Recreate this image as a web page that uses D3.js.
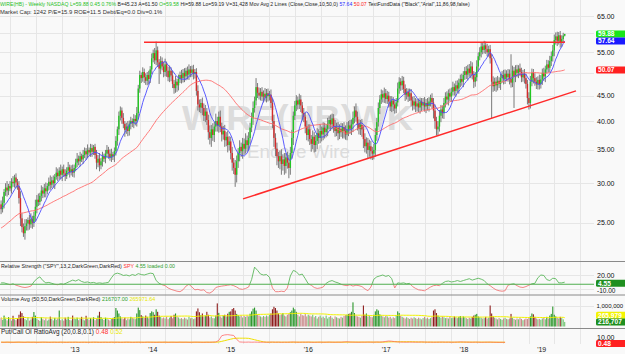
<!DOCTYPE html>
<html>
<head>
<meta charset="utf-8">
<script src="https://cdn.jsdelivr.net/npm/d3@7"></script>
<style>
body { margin: 0; background: #fff; }
svg { display: block; font-family: "Liberation Sans", Arial, sans-serif; }
</style>
</head>
<body>
<svg id="chart" width="625" height="354"></svg>
<script>
// weekly closes, first week ending 2012-01-20
var startDate = new Date(Date.UTC(2012, 0, 20));
var closes = [
  26.6,27.4,28.8,29.4,29.0,29.6,29.3,30.2,30.0,30.8, 30.1,29.6,28.0,25.5,24.5,23.8,24.6,24.9,25.3,24.8,
  25.4,25.0,25.8,26.9,27.8,27.5,28.3,29.0,28.6,29.3, 28.9,29.6,30.2,29.8,30.4,30.0,30.9,31.5,31.0,31.8,
  31.2,32.0,31.4,31.0,31.8,32.3,31.6,32.0,31.5,32.2,
  33.0,33.6,33.2,34.0,33.5,34.2,34.8,34.3,35.0,34.6, 35.3,34.7,35.5,34.2,33.0,33.6,32.6,33.2,34.0,33.6,
  34.4,35.0,34.4,33.8,34.3,34.0,34.8,36.5,38.5,41.0, 42.0,40.6,39.5,38.4,39.0,38.2,39.5,40.0,39.6,40.4,
  40.0,41.5,46.5,49.5,48.8,50.2,49.0,48.2,49.5,48.6, 50.8,53.5,
  54.8,53.0,55.5,52.5,51.0,52.8,51.5,50.2,52.0,50.5, 49.0,50.5,49.4,47.5,46.6,48.0,47.2,48.6,49.5,48.8,
  50.0,49.2,50.5,49.6,50.8,50.0,50.8,49.8,50.2,46.0, 43.2,42.6,43.5,42.5,41.0,41.8,40.2,38.0,37.0,38.5,
  37.5,39.0,40.0,39.2,40.8,39.0,37.6,38.2,36.6,37.2, 35.8,36.4,
  34.5,33.0,32.2,31.2,33.2,34.5,35.5,34.8,36.0,35.2, 36.6,35.8,37.0,38.8,40.5,42.5,44.0,46.8,45.6,45.0,
  45.8,44.8,45.4,44.6,45.5,44.9,45.2,43.5,40.0,37.0, 35.2,34.0,33.2,34.0,32.8,33.5,32.5,33.8,33.0,32.2,
  34.5,37.0,41.0,43.0,44.0,43.2,44.2,43.0,41.5,40.8, 39.0,37.5,38.5,
  36.8,36.0,37.2,35.8,36.5,37.8,37.0,38.2,37.6,38.8, 38.0,38.6,39.5,40.2,39.4,40.5,39.0,38.2,38.8,37.8,
  38.6,38.0,38.9,38.2,37.6,38.5,39.2,38.6,39.4,40.6, 42.0,40.8,39.5,38.6,39.3,38.5,36.8,35.6,36.2,35.0,
  35.6,34.8,34.4,35.0,37.5,39.8,42.5,44.2,45.3,44.6, 45.5,44.3,
  45.0,43.8,42.8,44.0,43.2,42.4,43.6,46.5,48.0,47.2, 48.2,46.4,45.2,45.8,44.8,45.5,44.0,43.0,43.8,42.8,
  43.4,42.6,43.8,43.0,43.6,42.8,43.5,42.9,43.8,44.5, 43.6,42.0,40.0,38.5,39.0,41.0,42.2,41.5,43.5,44.8,
  44.2,45.5,44.8,45.8,46.8,46.0,47.2,46.5,47.8,48.6, 48.0,49.5,
  50.4,49.6,51.0,50.0,51.5,49.5,48.0,49.0,51.5,54.0, 55.0,56.5,55.6,56.8,55.8,55.0,55.8,53.5,48.0,47.0,
  48.0,47.2,48.2,47.5,48.8,49.5,48.6,49.8,49.0,49.8, 48.6,47.8,50.5,49.2,50.8,50.0,51.0,50.2,49.0,49.8,
  48.8,47.5,44.5,43.5,48.0,50.0,48.8,48.0,47.4,48.4, 47.5,48.5,
  50.0,49.2,50.8,52.0,51.2,52.8,54.0,55.5,58.2,59.2, 58.0,59.5,57.5,58.5,59.4,59.88
];
// 2011 closes, only used to start the moving averages
var closes2011 = [
  22.0,22.8,22.4,21.6,22.2,23.0,22.6,21.8,22.4,23.2, 22.8,22.0,22.6,23.4,22.8,22.2,23.0,22.6,23.2,22.4,
  24.0,24.6,24.2,25.0,24.4,23.8,24.6,25.2,24.8,24.2, 25.0,24.4,24.8,25.4,24.6,
  26.0,26.8,26.2,27.0,26.4,25.8,26.6,27.2,26.8,26.2,27.0,26.4,26.8,27.2
];
var wickUp = [
  0.5,0.8,0.4,0.6,0.9,0.3,0.7,0.5,0.8,0.4, 0.6,0.5,0.7,0.9,0.6,0.4,0.8,0.5,0.3,0.6, 0.7,0.4,0.5,0.9,0.6,0.8,0.4,0.7,0.5,0.6,
  0.8,0.4,0.6,0.9,0.5,0.7,0.4,0.8,0.6,0.5, 0.9,0.4,0.7,0.6,0.5,0.8,0.4,0.6,0.7,0.5,
  0.6,0.9,0.5,0.7,0.4,0.8,0.6,0.5,0.9,0.4, 0.7,0.6,0.3,0.5,0.8,0.6,0.9,0.5,0.7,0.4, 0.6,0.8,0.5,0.7,0.9,0.4,0.6,0.8,0.5,0.8,
  0.8,0.6,0.9,0.5,0.7,1.0,0.6,0.8,0.5,0.9, 0.7,1.2,0.8,1.0,0.6,1.1,0.8,0.9,0.7,1.0, 0.8,1.2,
  0.9,1.3,2.3,1.0,0.8,1.2,0.9,1.1,1.4,0.7, 1.0,1.2,0.8,1.1,0.9,1.3,0.7,1.0,0.8,1.2, 0.9,1.1,0.7,1.0,1.2,0.8,0.9,1.1,0.7,0.9,
  1.2,1.0,0.8,1.1,0.9,1.3,0.7,1.0,1.2,0.8, 1.1,0.9,1.4,0.8,1.0,1.2,0.7,0.9,1.1,0.8, 1.0,0.9,
  0.8,1.0,0.7,1.2,0.9,0.8,1.1,0.7,1.0,0.9, 1.2,0.8,1.0,0.9,1.1,1.3,0.8,2.0,0.9,1.1, 0.8,1.0,0.7,1.2,0.9,1.0,0.8,1.1,0.9,1.2,
  0.8,1.0,0.7,0.9,1.1,0.8,1.0,0.7,0.9,1.2, 1.0,1.4,0.8,0.9,1.1,0.8,1.2,0.9,0.7,1.0, 0.8,1.1,0.9,
  0.9,0.7,1.1,0.8,1.0,0.9,0.7,1.2,0.8,1.0, 0.9,0.8,1.1,0.7,1.0,0.9,0.8,1.2,0.9,1.0, 0.8,1.1,0.7,0.9,1.0,1.3,0.8,1.0,0.9,1.2,
  0.8,1.4,1.0,0.8,0.9,1.1,0.7,1.0,0.9,0.8, 1.1,0.9,0.7,1.0,1.2,0.8,1.1,0.9,1.0,0.8, 1.2,0.9,
  1.0,0.8,1.1,0.9,0.7,1.0,0.9,1.3,1.0,0.8, 1.1,0.9,1.0,0.8,0.7,1.0,0.9,0.8,1.1,0.7, 0.9,1.0,0.8,0.7,0.9,1.1,0.8,1.0,0.9,0.7,
  1.0,0.9,1.2,0.8,1.0,1.1,0.9,0.8,1.0,0.9, 1.1,0.8,1.0,0.9,1.2,0.8,1.0,1.1,0.9,1.0, 1.2,0.9,
  1.0,1.2,0.9,1.1,1.3,1.0,0.9,1.2,1.5,1.0, 1.3,1.1,0.9,1.2,1.0,1.4,0.9,1.1,1.0,1.2, 0.9,1.0,1.1,0.8,1.0,0.9,1.2,1.0,0.8,1.1,
  1.0,5.9,1.2,0.9,1.0,1.1,0.8,1.2,1.0,0.9, 1.1,1.0,0.9,1.2,1.3,1.0,0.9,1.1,1.0,0.8, 1.2,1.0,
  1.0,1.2,0.9,1.1,1.0,1.3,1.2,1.4,1.5,1.1, 1.3,0.9,1.2,1.0,0.8,0.0
];
var wickDn = [
  0.6,0.4,0.7,0.5,0.8,0.6,0.4,0.7,0.5,0.6, 0.8,0.5,0.7,0.9,0.6,0.4,0.7,0.5,0.8,0.6, 0.4,0.7,0.5,0.6,0.8,0.5,0.4,0.7,0.6,0.5,
  0.8,0.4,0.6,0.7,0.5,0.6,0.8,0.4,0.7,0.5, 0.6,0.9,0.5,0.7,0.4,0.6,0.8,0.5,0.6,0.7,
  0.5,0.7,0.6,0.8,0.4,0.7,0.5,0.9,0.6,0.5, 0.7,0.8,0.5,0.6,1.0,0.7,0.9,0.6,0.8,0.5, 0.7,0.6,0.8,0.5,0.7,0.6,0.9,0.7,0.8,1.0,
  0.9,1.1,0.8,1.2,0.7,0.9,0.8,1.0,0.7,0.9, 0.8,1.0,1.2,0.9,1.1,0.8,1.3,0.9,1.0,1.2, 0.9,1.1,
  1.0,0.9,1.2,1.1,3.5,1.3,0.9,1.2,1.0,1.4, 0.9,1.1,1.3,0.9,1.2,1.0,1.4,1.1,0.9,1.2, 1.0,1.3,0.9,1.1,1.2,1.0,0.9,1.3,1.1,1.0,
  1.2,0.9,1.1,1.4,1.0,1.2,0.9,1.3,1.1,1.5, 1.0,1.2,0.9,1.1,1.3,1.0,1.2,0.9,1.1,1.0, 1.2,0.9,
  1.0,1.2,0.9,1.7,1.1,1.0,1.3,0.9,1.2,1.0, 0.8,1.1,0.9,1.0,0.8,1.2,0.9,1.0,1.1,0.8, 1.0,0.9,1.2,0.8,1.0,1.1,0.9,1.0,1.3,1.5,
  1.2,1.4,1.0,1.2,1.6,1.0,1.3,1.1,0.9,1.5, 1.0,0.9,1.2,0.8,1.1,1.0,0.9,1.3,1.4,1.0, 1.2,0.9,1.1,
  1.0,1.3,0.9,1.2,1.1,1.4,1.0,0.9,1.2,1.0, 1.1,0.9,1.3,1.0,1.2,0.8,1.1,1.0,0.9,1.2, 1.0,0.8,1.1,1.3,0.9,1.0,1.2,0.9,1.1,1.4,
  1.0,0.9,1.2,1.0,1.1,1.3,1.5,1.0,1.2,1.4, 1.1,1.3,1.0,0.9,1.1,1.0,0.8,1.2,0.9,1.0, 1.1,0.9,
  1.0,1.2,0.9,1.1,1.3,1.0,0.9,0.8,1.1,1.2, 1.0,0.9,1.3,1.0,1.1,0.9,1.2,1.0,0.8,1.1, 1.0,0.9,1.2,1.1,0.9,1.0,1.3,0.9,1.1,1.0,
  1.2,1.5,1.4,1.1,1.0,0.9,1.2,1.0,1.1,0.9, 1.0,1.2,0.9,1.1,0.8,1.0,1.2,0.9,1.1,1.0, 0.9,1.2,
  1.1,1.0,1.3,0.9,1.2,1.0,1.4,1.1,0.9,1.2, 1.0,1.3,1.1,0.9,1.2,1.0,1.1,1.3,7.5,1.2, 1.0,1.4,1.1,0.9,1.3,1.0,1.2,1.1,0.9,1.0,
  1.2,1.1,1.0,6.7,1.3,1.0,1.2,0.9,1.1,1.0, 1.2,1.0,1.3,1.3,1.1,1.0,1.2,0.9,1.0,1.1, 1.2,1.0,
  1.2,1.0,1.3,0.9,1.1,1.0,1.2,1.3,1.5,1.2, 1.4,1.0,1.3,1.1,0.9,0.2
];
// weekly volume, thousands of shares
var volumes = [
  420,310,520,380,290,450,360,280,510,340, 300,390,560,720,640,480,350,300,420,280, 330,460,690,520,380,310,270,440,350,300,
  390,280,330,470,360,290,410,320,380,760, 300,350,280,420,330,460,310,290,520,380,
  350,420,300,380,460,330,290,510,370,320, 400,350,440,300,380,520,700,450,360,310, 420,380,330,290,360,410,450,880,760,620,
  480,390,350,420,300,380,340,460,410,380, 350,620,900,780,540,480,410,520,460,390, 640,720,
  680,560,820,700,520,450,390,430,380,470, 350,420,500,390,560,620,480,430,370,400, 350,420,380,330,460,390,410,350,380,720,
  860,680,540,620,480,520,700,560,430,480, 400,390,520,1100,650,480,420,520,560,480, 610,700,
  720,830,880,760,600,540,480,520,430,500, 460,520,480,610,720,850,900,760,560,520, 480,440,500,460,520,480,560,620,820,940,
  880,760,620,540,580,640,520,480,560,600, 680,760,900,820,700,560,480,600,540,520, 600,480,560,
  520,480,560,440,500,380,460,520,420,470, 400,520,380,450,500,420,360,480,440,400, 380,460,420,500,540,560,600,620,700,1150,
  640,520,480,460,420,500,1000,560,620,480, 520,460,440,560,720,820,760,580,520,480, 440,500,
  480,420,460,380,440,400,520,720,640,500, 460,420,380,440,400,360,420,380,440,400, 360,420,380,340,400,460,380,420,360,400,
  440,760,820,640,520,460,420,480,440,400, 420,380,460,400,420,480,440,400,460,500, 420,480,
  440,400,360,420,380,460,520,560,600,480, 440,420,380,400,460,380,420,1000,620,480, 420,380,340,400,360,320,380,420,360,340,
  380,600,420,360,320,380,340,400,360,300, 340,380,360,420,480,620,580,460,380,340, 360,320,
  380,420,340,460,380,520,600,950,560,480, 420,380,460,400,340,217
];
// relative strength vs SPY and put/call ratio, every second week
var relStrength = [
  3,3,1,-1,1,-2,-4,-6,-7,-6, -4,5,12,16,8,3,4,2,0,-1, 1,0,3,6,9,7,10,6,4,5,
  3,4,2,3,2,3,4,14,22,24, 22,19,20,18,21,19,23,21,20,22, 24,23,8,2,-1,-3,-8,-11,-13,-15,
  -16,-12,-4,0,-6,-12,-11,-13,-12,-18, -19,-15,-7,-5,-4,-3,-2,-1,-3,-6, -10,-11,-9,-6,10,37,30,22,20,21,
  15,-8,-16,-16,-15,-16,-8,18,30,27, 20,22,12,1,-2,-7,-9,-8,-6,2, 6,8,5,3,0,-2,-3,-1,-4,-2,
  -3,-5,-10,-14,-6,11,16,18,20,17, 19,12,-8,3,2,3,1,2,-5,-9, -12,-13,-14,-10,-6,-3,-2,-3,2,6,
  7,5,6,8,6,8,10,12,9,11, 13,11,8,1,-3,-8,-12,-14,-15,-14, -2,0,1,-3,-6,-7,-5,-2,1,2,
  14,20,19,10,8,13,12,3,3,4.55
];
var putCall = [
  0.8,0.6,0.9,0.7,0.6,0.8,1.0,0.7,0.6,0.9, 0.7,0.8,0.6,0.7,0.9,0.8,0.6,0.7,0.8,0.6, 0.9,0.7,0.6,0.8,0.7,0.9,0.6,0.7,0.8,0.6,
  0.7,0.9,0.8,0.6,0.7,0.8,0.6,0.9,0.7,0.8, 0.6,0.7,0.9,0.8,0.6,0.7,0.8,0.7,0.6,0.9, 0.8,0.7,0.6,0.8,0.7,0.9,0.6,0.8,0.7,0.6,
  0.9,0.7,0.8,0.6,0.7,0.9,0.8,0.7,0.6,0.8, 0.7,0.9,1.2,4.0,13.0,14.5,15.0,14.2,13.5,6.0, 1.2,0.9,0.8,1.0,0.7,0.9,0.8,0.6,0.9,0.7,
  0.8,1.0,0.7,0.9,0.6,0.8,0.7,0.9,1.1,0.8, 0.7,0.9,0.8,1.0,0.7,0.6,0.8,0.9,0.7,0.8, 1.0,0.8,0.7,0.9,0.8,1.2,1.5,1.1,0.9,0.8,
  0.7,0.9,0.8,1.0,0.9,0.8,1.1,0.9,1.3,2.2, 3.0,2.6,1.8,1.2,1.0,0.9,0.8,1.0,0.9,0.8, 0.9,1.2,1.0,0.8,0.9,0.7,0.8,0.9,1.0,0.8,
  0.9,0.7,0.8,1.0,1.3,1.1,0.9,0.8,0.7,0.9, 0.8,0.6,0.7,0.8,0.9,0.7,0.6,0.5,0.6,0.48
];
var priceTicks = [25, 30, 35, 40, 45, 55, 65];   // 50 and 60 sit under the value boxes
var gridPrices = [25, 30, 35, 40, 45, 50, 55, 60, 65];
var years = [2013, 2014, 2015, 2016, 2017, 2018, 2019];
// drawn trendlines: [date, price] pairs
var resistance = [[Date.UTC(2013, 10, 21), 57.6], [Date.UTC(2019, 3, 20), 57.6]];
var support = [[Date.UTC(2015, 2, 1), 27.9], [Date.UTC(2019, 5, 11), 46.0]];

var W = 625, H = 354;
var svg = d3.select("#chart");

var dates = closes.map(function(c, i) { return d3.utcDay.offset(startDate, 7 * i); });
var bars = closes.map(function(c, i) {
  var o = i > 0 ? closes[i - 1] : closes2011[closes2011.length - 1];
  return {date: dates[i], open: o, close: c,
    high: Math.max(o, c) + wickUp[i], low: Math.min(o, c) - wickDn[i], vol: volumes[i] * 1000};
});

function sma(vals, n, offset) {
  var out = [];
  for (var i = offset; i < vals.length; i++) {
    var s = 0, k = 0;
    for (var j = Math.max(0, i - n + 1); j <= i; j++) { s += vals[j]; k++; }
    out.push(s / k);
  }
  return out;
}
var allCloses = closes2011.concat(closes);
var ma10 = sma(allCloses, 10, closes2011.length);
var ma50 = sma(allCloses, 50, closes2011.length);
var volAvg = sma(volumes, 50, 0);
var pcAvg = sma(putCall, 10, 0);

var x = d3.scaleUtc().domain([Date.UTC(2013, 0, 1), Date.UTC(2019, 0, 1)]).range([75, 541.7]);
var y = d3.scaleLog().domain([25, 65]).range([222.6, 16.2]);
var yRS = d3.scaleLinear().domain([-10, 20]).range([288.9, 275]);
var yVol = d3.scaleLinear().domain([0, 1e6]).range([326.5, 305.5]);
var yPC = d3.scaleLinear().domain([0, 10]).range([342.6, 337.3]);

svg.append("rect").attr("width", W).attr("height", H).attr("fill", "#f9f9f9");

// grid
var grid = svg.append("g").attr("stroke", "#e6e6e6").attr("stroke-width", 1);
d3.utcMonth.range(new Date(Date.UTC(2011, 10, 1)), new Date(Date.UTC(2019, 10, 1)), 4).forEach(function(d) {
  var gx = Math.round(x(d)) + 0.5;
  if (gx < 594) grid.append("line").attr("x1", gx).attr("x2", gx).attr("y1", 0).attr("y2", 344);
});
gridPrices.forEach(function(p) {
  var gy = Math.round(y(p)) + 0.5;
  grid.append("line").attr("x1", 0).attr("x2", 594).attr("y1", gy).attr("y2", gy);
});
[20, -10].forEach(function(v) {
  var gy = Math.round(yRS(v)) + 0.5;
  grid.append("line").attr("x1", 0).attr("x2", 594).attr("y1", gy).attr("y2", gy);
});
grid.append("line").attr("x1", 0).attr("x2", 594).attr("y1", Math.round(yVol(1e6)) + 0.5).attr("y2", Math.round(yVol(1e6)) + 0.5);

// watermark
svg.append("text").attr("x", 182).attr("y", 130).attr("font-size", 35).attr("font-weight", "bold")
  .attr("fill", "#dcdcdc").attr("textLength", 231).attr("lengthAdjust", "spacingAndGlyphs").text("WIRE(HB)WK");
svg.append("text").attr("x", 247).attr("y", 158).attr("font-size", 18)
  .attr("fill", "#dcdcdc").attr("textLength", 103).attr("lengthAdjust", "spacingAndGlyphs").text("Encore Wire");

// main panel
var main = svg.append("g");
main.append("g").selectAll("line").data(bars).join("line")
  .attr("x1", function(d) { return x(d.date); }).attr("x2", function(d) { return x(d.date); })
  .attr("y1", function(d) { return y(d.high); }).attr("y2", function(d) { return y(d.low); })
  .attr("stroke", "#7a7a7a").attr("stroke-width", 1);
main.append("g").selectAll("rect").data(bars).join("rect")
  .attr("x", function(d) { return x(d.date) - 0.7; }).attr("width", 1.4)
  .attr("y", function(d) { return y(Math.max(d.open, d.close)); })
  .attr("height", function(d) { return Math.max(0.8, Math.abs(y(d.open) - y(d.close))); })
  .attr("fill", function(d) { return d.close >= d.open ? "#22c622" : "#d42a2a"; });

var maLine = d3.line().x(function(d, i) { return x(dates[i]); }).y(function(d) { return y(d); });
main.append("path").attr("d", maLine(ma50)).attr("fill", "none").attr("stroke", "#ff6a6a").attr("stroke-width", 0.9);
main.append("path").attr("d", maLine(ma10)).attr("fill", "none").attr("stroke", "#4a4aff").attr("stroke-width", 0.9);

var tl = d3.line().x(function(d) { return x(new Date(d[0])); }).y(function(d) { return y(d[1]); });
main.append("path").attr("d", tl(resistance)).attr("stroke", "#ff2a2a").attr("stroke-width", 1.5).attr("fill", "none");
main.append("path").attr("d", tl(support)).attr("stroke", "#ff2a2a").attr("stroke-width", 1.5).attr("fill", "none");

// relative strength panel
var rsDates = relStrength.map(function(v, j) { return dates[Math.min(2 * j, dates.length - 1)]; });
var rsLine = d3.line().x(function(d, j) { return x(rsDates[j]); }).y(function(d) { return yRS(d); });
var defs = svg.append("defs");
defs.append("clipPath").attr("id", "rsUp").append("rect").attr("x", 0).attr("y", 262).attr("width", 594).attr("height", yRS(0) - 262);
defs.append("clipPath").attr("id", "rsDn").append("rect").attr("x", 0).attr("y", yRS(0)).attr("width", 594).attr("height", 295 - yRS(0));
svg.append("path").attr("d", rsLine(relStrength)).attr("fill", "none").attr("stroke", "#5cb85c").attr("stroke-width", 0.9).attr("clip-path", "url(#rsUp)");
svg.append("path").attr("d", rsLine(relStrength)).attr("fill", "none").attr("stroke", "#f07878").attr("stroke-width", 0.9).attr("clip-path", "url(#rsDn)");
svg.append("line").attr("x1", 0).attr("x2", 594).attr("y1", yRS(0)).attr("y2", yRS(0)).attr("stroke", "#4fae4f").attr("stroke-width", 1.2);

// volume panel
svg.append("g").selectAll("rect").data(bars).join("rect")
  .attr("x", function(d) { return x(d.date) - 0.55; }).attr("width", 1.1)
  .attr("y", function(d) { return yVol(d.vol); })
  .attr("height", function(d) { return yVol(0) - yVol(d.vol); })
  .attr("fill", function(d, i) {
    var big = volumes[i] > volAvg[i];
    if (d.close >= d.open) return big ? "#2a962a" : "#72c272";
    return big ? "#8e1e1e" : "#c98a8a";
  });
svg.append("path").attr("d", d3.line().x(function(d, i) { return x(dates[i]); }).y(function(d) { return yVol(d * 1000); })(volAvg))
  .attr("fill", "none").attr("stroke", "#f2f200").attr("stroke-width", 1);

// put/call panel
var pcLine = d3.line().x(function(d, j) { return x(rsDates[j]); }).y(function(d) { return yPC(d); });
svg.append("path").attr("d", pcLine(pcAvg)).attr("fill", "none").attr("stroke", "#f0e000").attr("stroke-width", 1);
svg.append("path").attr("d", pcLine(putCall)).attr("fill", "none").attr("stroke", "#ff6060").attr("stroke-width", 1).attr("opacity", 0.75);

// panel separators
[261.5, 295, 328.5].forEach(function(sy) {
  svg.append("line").attr("x1", 0).attr("x2", W).attr("y1", sy).attr("y2", sy).attr("stroke", "#8a8a8a").attr("stroke-width", 1);
});

// a row of coloured text pieces; font size is cut down so the row fits the given width
function label(parts, x0, ty, size, len) {
  var g = svg.append("g").attr("font-size", size);
  var nodes = parts.map(function(p) { return g.append("text").attr("y", ty).attr("fill", p[1]).text(p[0]); });
  var gap = size * 0.3;
  var nat = nodes.map(function(n) { return n.node().getComputedTextLength(); });
  var k = Math.min(1, len / (d3.sum(nat) + gap * (parts.length - 1))) * 0.985;
  g.attr("font-size", size * k);
  var cx = x0;
  nodes.forEach(function(n, i) {
    n.attr("x", cx);
    cx += n.node().getComputedTextLength() + gap * k;
  });
}
var GR = "#1fbf1f", BK = "#222";
label([["WIRE(HB) - Weekly", GR], ["NASDAQ", GR], ["L=59.88 0.45 0.76%", GR], ["B=45.23", BK], ["A=61.50", BK], ["O=59.58", GR],
  ["Hi=59.88", BK], ["Lo=59.19", BK], ["V=31,428", BK], ["Mov Avg 2 Lines (Close,Close,10,50,0)", BK], ["57.64", "#2a2aff"], ["50.07", "#ff2020"],
  ["TextFundData (\"Black\",\"Arial\",11,86,98,false)", BK]], 0, 6, 6.5, 478);
label([["Market Cap: 1242", "#333"], ["P/E=15.9", "#333"], ["ROE=11.5", "#333"], ["Debt/Eq=0.0", "#333"], ["Div=0.1%", "#333"]], 0, 13.5, 6.5, 165);
label([["Relative Strength (\"SPY\",13,2,DarkGreen,DarkRed)", BK], ["SPY", "#ff3030"], ["4.55", "#2ea02e"], ["loaded", "#2ea02e"], ["0.00", "#2ea02e"]], 1, 268, 6.5, 177);
label([["Volume Avg (50,50,DarkGreen,DarkRed)", BK], ["216707.00", "#2ea02e"], ["265971.64", "#e8e800"]], 1, 301, 6.5, 157);
label([["Put/Call OI RatioAvg (20,0.8,0.1)", BK], ["0.48", "#ff3030"], ["0.52", "#e8e800"]], 1, 334, 6.5, 138);

// right axis labels
var ax = svg.append("g").attr("font-size", 7).attr("fill", "#111");
priceTicks.forEach(function(p) {
  ax.append("text").attr("x", 597).attr("y", y(p) + 2.5).text(d3.format(".2f")(p));
});
ax.append("text").attr("x", 597).attr("y", yRS(20) + 2.5).text("20.00");
ax.append("text").attr("x", 597).attr("y", yRS(-10) + 3.8).attr("font-size", 6.5).text("-10.00");
ax.append("text").attr("x", 596.5).attr("y", yVol(1e6) + 2.3).attr("font-size", 6).text("1,000,000");
ax.append("text").attr("x", 597).attr("y", yPC(10) + 2.5).text("10.00");

function valueBox(cy, txt, fill, col) {
  svg.append("rect").attr("x", 596).attr("y", cy - 3.5).attr("width", 32).attr("height", 7).attr("rx", 1.5).attr("fill", fill);
  svg.append("text").attr("x", 598).attr("y", cy + 2.4).attr("font-size", 6.6).attr("font-weight", "bold").attr("fill", col).text(txt);
}
valueBox(y(closes[closes.length - 1]), "59.88", "#19e619", "#fff");
valueBox(y(ma10[ma10.length - 1]), "57.64", "#1a1aff", "#fff");
valueBox(y(ma50[ma50.length - 1]), "50.07", "#ff2020", "#fff");
valueBox(283.3, "4.55", "#1f8f1f", "#fff");
valueBox(315.2, "265,979", "#f4f400", "#fff");
valueBox(322, "216,707", "#1f8f1f", "#fff");
valueBox(343.5, "0.48", "#ff2020", "#fff");

// bottom year labels
svg.append("g").attr("font-size", 7).attr("fill", "#222").attr("text-anchor", "middle")
  .selectAll("text").data(years).join("text")
  .attr("x", function(d) { return x(new Date(Date.UTC(d, 0, 1))); }).attr("y", 352)
  .text(function(d) { return "'" + String(d).slice(2); });
</script>
</body>
</html>
